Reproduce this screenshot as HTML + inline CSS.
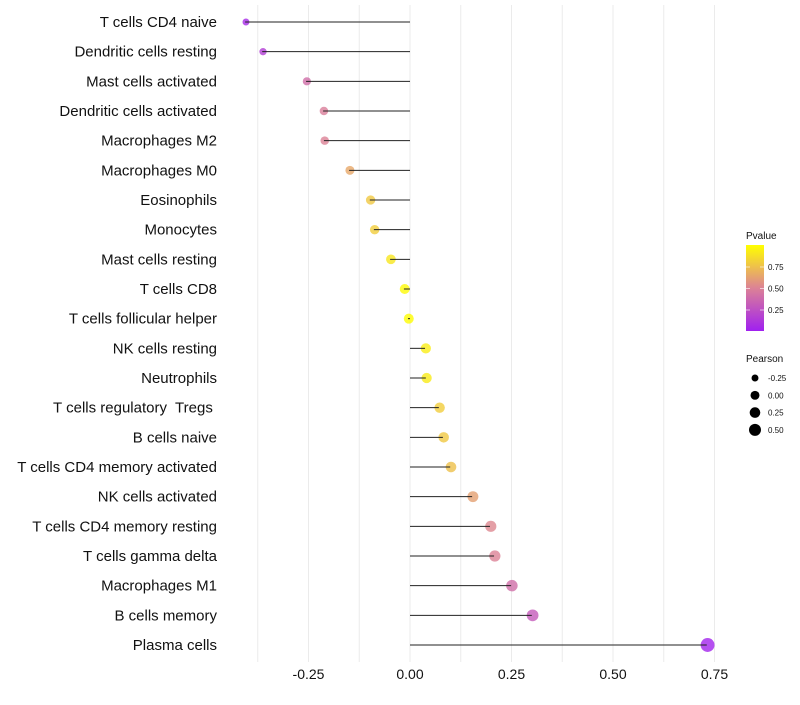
<!DOCTYPE html>
<html><head><meta charset="utf-8"><style>
body{margin:0;background:#fff;}
svg{font-family:"Liberation Sans",sans-serif;}
text{white-space:pre;}
</style></head><body>
<svg id="chart" width="800" height="700"></svg>
<script>
const categories=["T cells CD4 naive","Dendritic cells resting","Mast cells activated","Dendritic cells activated","Macrophages M2","Macrophages M0","Eosinophils","Monocytes","Mast cells resting","T cells CD8","T cells follicular helper","NK cells resting","Neutrophils","T cells regulatory  Tregs ","B cells naive","T cells CD4 memory activated","NK cells activated","T cells CD4 memory resting","T cells gamma delta","Macrophages M1","B cells memory","Plasma cells"];
const pearson=[-0.406,-0.364,-0.256,-0.214,-0.212,-0.150,-0.099,-0.089,-0.049,-0.015,-0.005,0.037,0.039,0.071,0.081,0.099,0.153,0.197,0.207,0.249,0.300,0.731];
const pvalue=[0.05,0.15,0.4,0.48,0.5,0.65,0.78,0.8,0.9,0.98,0.99,0.93,0.92,0.8,0.78,0.75,0.62,0.52,0.5,0.4,0.3,0.02];
const xTicks=[-0.25,0,0.25,0.5,0.75];
const xTickLabels=["-0.25","0.00","0.25","0.50","0.75"];
const legendP=[0.25,0.5,0.75];
const legendSizes=[-0.25,0,0.25,0.5];

const NS="http://www.w3.org/2000/svg";
const svg=document.getElementById('chart');
function el(t,a,p){const e=document.createElementNS(NS,t);for(const k in a)e.setAttribute(k,a[k]);(p||svg).appendChild(e);return e;}
const xs=v=>410+v*406;
const ys=i=>22+i*(623/21);
const rs=v=>Math.sqrt(Math.max(4,25+32*v));
const rl=v=>Math.sqrt(Math.max(4,20+32*v));
function col(p){
  const stops=[[0,[160,32,240]],[0.5,[220,130,150]],[1,[255,255,0]]];
  let a=stops[0],b=stops[1];if(p>0.5){a=stops[1];b=stops[2];}
  const t=(p-a[0])/(b[0]-a[0]);
  const c=a[1].map((v,i)=>Math.round(v+(b[1][i]-v)*t));
  return `rgb(${c[0]},${c[1]},${c[2]})`;
}
for(let v=-0.375;v<=0.76;v+=0.125){
  const g=el('line',{x1:xs(v),x2:xs(v),y1:5,y2:662,stroke:'#ebebeb','stroke-width':1});
  
  
}
xTicks.forEach((v,i)=>{
  const t=el('text',{x:xs(v),y:679,'text-anchor':'middle','font-size':14,fill:'#111'});
  t.textContent=xTickLabels[i];
  
  
});
categories.forEach((c,i)=>{
  const y=ys(i);
  const t=el('text',{x:217,y:y+5,'text-anchor':'end','font-size':15,fill:'#111'});
  t.textContent=c;
  
  
  const pt=el('circle',{cx:xs(pearson[i])+0.8,cy:y,r:rs(pearson[i]),fill:col(pvalue[i]),'fill-opacity':0.8});
  
  
  const ln=el('line',{x1:xs(0),x2:xs(pearson[i]),y1:y,y2:y,stroke:'#222','stroke-width':1});
  
  
});
const lt=el('text',{x:746,y:239,'font-size':10,fill:'#111'});lt.textContent='Pvalue';


const defs=el('defs',{});
const lg=el('linearGradient',{id:'pg',x1:0,y1:1,x2:0,y2:0},defs);
[0,0.25,0.5,0.75,1].forEach(s=>el('stop',{offset:s,'stop-color':col(s)},lg));
const bar=el('rect',{x:746,y:245,width:18,height:86,fill:'url(#pg)'});


legendP.forEach(p=>{
  const y=331.5-p*86;
  el('line',{x1:746,x2:750,y1:y,y2:y,stroke:'#fff','stroke-width':0.6});
  el('line',{x1:760,x2:764,y1:y,y2:y,stroke:'#fff','stroke-width':0.6});
  const t=el('text',{x:768,y:y+3,'font-size':8,fill:'#111'});t.textContent=p.toFixed(2);
  
  
});
const st=el('text',{x:746,y:362,'font-size':10,fill:'#111'});st.textContent='Pearson';


legendSizes.forEach((v,i)=>{
  const y=378+i*17.3;
  const c=el('circle',{cx:755,cy:y,r:rl(v),fill:'#000'});
  
  
  const t=el('text',{x:768,y:y+3,'font-size':8,fill:'#111'});t.textContent=v.toFixed(2);
  
  
});
</script>
</body></html>
